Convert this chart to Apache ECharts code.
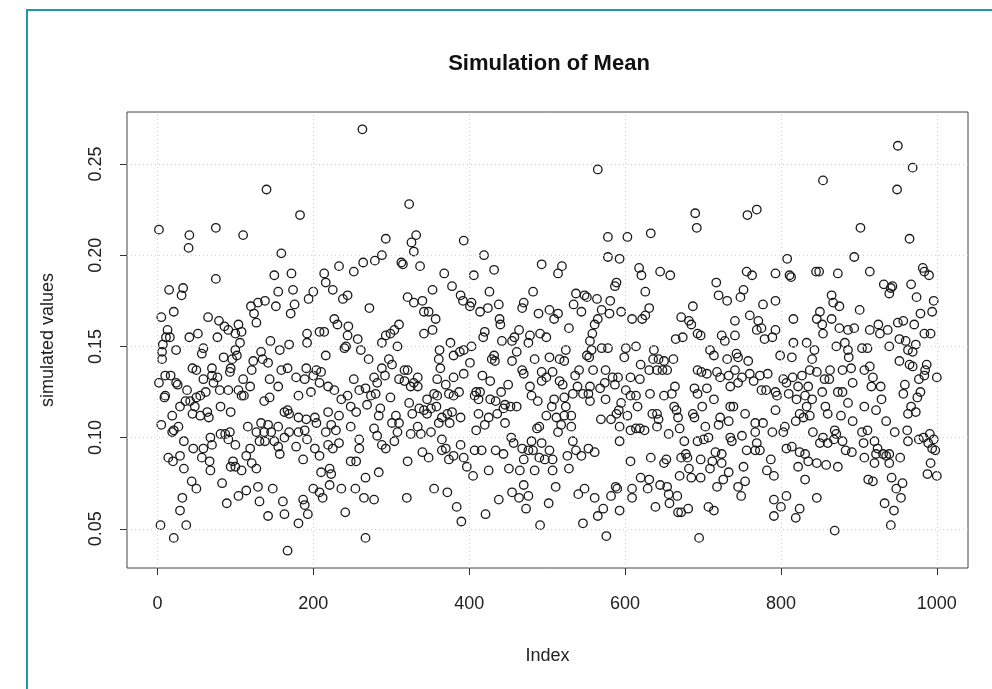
<!DOCTYPE html>
<html><head><meta charset="utf-8">
<script src="https://cdn.jsdelivr.net/npm/echarts@6/dist/echarts.min.js"></script>
<style>html,body{margin:0;padding:0;background:#fff}#c{width:992px;height:689px}</style>
</head><body><div id="c"></div>
<script>
const xTicks=[0,200,400,600,800,1000];
const yTicks=[0.05,0.10,0.15,0.20,0.25];
// [index, simulated value], in strips from left to right
const p1=[[2,.214],[41,.211],[40,.204],[75,.215],[75,.187],[15,.181],[33,.182],[31,.178],[21,.169],[5,.166],[65,.166],[79,.164],[86,.161],[91,.159],[77,.155],[13,.159],[11,.155],[16,.155],[41,.155],[52,.157],[7,.151],[24,.148],[59,.149],[57,.146],[6,.147],[6,.143],[85,.144],[96,.143],[45,.138],[50,.137],[70,.138],[70,.134],[77,.133],[59,.132],[72,.130],[10,.134],[17,.134],[2,.130],[24,.130],[26,.129],[94,.138],[93,.136],[80,.126],[91,.126],[38,.126],[10,.123],[9,.122],[55,.123],[62,.125],[50,.122],[36,.120],[42,.120],[48,.117],[29,.117],[45,.113],[55,.112],[64,.114],[66,.111],[81,.117],[94,.114],[19,.112],[5,.107],[21,.104],[19,.103],[27,.106],[68,.100],[81,.102],[87,.102],[91,.099],[34,.098],[46,.094],[59,.094],[70,.096],[14,.089],[20,.087],[29,.090],[34,.083],[57,.089],[67,.087],[68,.082],[94,.084],[44,.076],[50,.072],[83,.075],[32,.067],[29,.060],[89,.064],[4,.052],[37,.052],[21,.045]];
const p2=[[140,.236],[183,.222],[110,.211],[159,.201],[150,.189],[172,.190],[155,.180],[174,.181],[194,.176],[120,.172],[129,.174],[138,.175],[124,.168],[127,.163],[152,.172],[176,.173],[171,.168],[104,.162],[108,.158],[100,.157],[106,.152],[192,.157],[192,.152],[145,.153],[157,.148],[169,.151],[133,.147],[100,.148],[102,.145],[135,.143],[123,.142],[142,.141],[121,.137],[159,.137],[167,.138],[110,.132],[119,.128],[144,.132],[155,.128],[178,.133],[189,.132],[191,.138],[104,.126],[108,.123],[111,.123],[181,.123],[137,.120],[144,.122],[163,.114],[167,.115],[169,.113],[181,.111],[191,.110],[133,.108],[142,.107],[155,.106],[116,.106],[127,.103],[137,.103],[146,.103],[169,.103],[181,.103],[189,.104],[93,.103],[100,.096],[131,.098],[138,.098],[150,.098],[163,.100],[155,.095],[178,.095],[192,.099],[119,.094],[114,.090],[157,.091],[187,.088],[97,.087],[100,.084],[108,.082],[121,.086],[127,.083],[129,.073],[148,.072],[104,.068],[114,.071],[131,.065],[161,.065],[163,.058],[187,.066],[189,.063],[142,.057],[181,.053],[167,.038]];
const p3=[[263,.269],[293,.209],[288,.200],[279,.197],[264,.196],[233,.194],[252,.191],[214,.190],[216,.185],[225,.181],[200,.180],[244,.178],[238,.176],[272,.171],[227,.165],[231,.162],[245,.161],[208,.158],[214,.158],[244,.156],[257,.154],[240,.149],[242,.150],[261,.148],[271,.143],[293,.156],[288,.152],[216,.145],[204,.137],[210,.136],[200,.134],[208,.130],[197,.125],[219,.128],[227,.126],[252,.132],[259,.126],[267,.127],[278,.133],[282,.130],[288,.138],[292,.134],[274,.123],[280,.124],[236,.121],[244,.123],[248,.117],[255,.114],[269,.118],[286,.116],[284,.112],[219,.114],[233,.112],[204,.108],[202,.111],[223,.107],[229,.104],[248,.106],[216,.103],[278,.105],[282,.101],[259,.099],[202,.094],[208,.090],[219,.096],[225,.094],[233,.097],[259,.094],[293,.094],[288,.096],[248,.087],[255,.087],[210,.081],[221,.083],[223,.080],[284,.081],[267,.078],[200,.072],[208,.070],[212,.067],[221,.074],[236,.072],[254,.072],[265,.067],[278,.066],[193,.058],[241,.059],[267,.045]];
const p4=[[323,.228],[332,.211],[326,.207],[329,.202],[393,.208],[313,.196],[315,.195],[337,.194],[368,.190],[378,.183],[389,.178],[392,.175],[353,.181],[321,.177],[329,.174],[340,.175],[342,.169],[348,.169],[357,.165],[310,.162],[304,.159],[299,.157],[353,.159],[342,.157],[376,.152],[308,.150],[362,.148],[380,.145],[388,.147],[393,.148],[297,.143],[301,.140],[317,.137],[321,.137],[334,.133],[361,.143],[363,.138],[359,.132],[310,.132],[317,.131],[329,.130],[325,.128],[334,.128],[380,.133],[393,.135],[370,.129],[355,.124],[359,.123],[374,.124],[380,.123],[387,.125],[299,.122],[323,.119],[346,.121],[336,.116],[342,.115],[346,.113],[351,.116],[358,.117],[365,.111],[372,.113],[378,.114],[389,.111],[327,.113],[306,.112],[301,.108],[310,.108],[308,.103],[334,.106],[338,.102],[325,.102],[351,.103],[361,.108],[375,.108],[304,.098],[365,.099],[370,.094],[365,.093],[389,.096],[380,.090],[374,.088],[393,.089],[340,.092],[348,.089],[321,.087],[355,.072],[372,.070],[320,.067],[384,.062],[390,.054]];
const p5=[[419,.200],[493,.195],[432,.192],[406,.189],[426,.180],[482,.180],[403,.174],[401,.172],[414,.169],[424,.171],[438,.173],[470,.174],[468,.171],[489,.168],[439,.165],[440,.162],[464,.159],[478,.156],[491,.157],[420,.158],[418,.155],[458,.155],[455,.153],[442,.153],[476,.152],[403,.150],[461,.147],[432,.145],[429,.143],[433,.142],[455,.142],[484,.143],[401,.141],[468,.137],[470,.135],[493,.136],[417,.134],[427,.131],[450,.129],[478,.128],[493,.131],[480,.123],[488,.120],[441,.125],[409,.125],[414,.125],[407,.123],[412,.121],[427,.121],[434,.120],[446,.118],[453,.117],[461,.117],[444,.116],[412,.113],[436,.113],[446,.108],[425,.111],[420,.107],[409,.104],[487,.105],[490,.106],[454,.100],[407,.093],[416,.093],[434,.093],[444,.091],[457,.097],[468,.094],[476,.093],[482,.093],[480,.098],[493,.097],[397,.084],[405,.079],[425,.082],[451,.083],[465,.082],[470,.088],[484,.082],[470,.074],[455,.070],[464,.067],[476,.068],[438,.066],[473,.061],[421,.058],[491,.052]];
const p6=[[565,.247],[578,.210],[578,.199],[593,.198],[519,.194],[514,.190],[589,.185],[587,.183],[537,.179],[548,.178],[551,.177],[564,.176],[581,.175],[534,.173],[544,.169],[570,.170],[580,.168],[503,.170],[514,.168],[509,.165],[565,.165],[561,.162],[528,.160],[499,.155],[558,.157],[555,.153],[595,.169],[524,.148],[557,.148],[570,.149],[578,.149],[551,.145],[503,.144],[516,.143],[522,.142],[554,.144],[541,.137],[559,.137],[575,.137],[591,.133],[584,.133],[499,.133],[507,.136],[536,.134],[516,.131],[520,.129],[574,.130],[587,.129],[539,.128],[555,.128],[568,.127],[533,.124],[546,.124],[553,.124],[575,.121],[509,.121],[506,.117],[522,.122],[555,.120],[524,.117],[595,.119],[499,.112],[512,.111],[522,.112],[531,.112],[569,.110],[582,.110],[589,.113],[592,.115],[518,.107],[531,.106],[514,.103],[593,.106],[593,.098],[503,.093],[533,.098],[537,.093],[553,.094],[561,.092],[490,.089],[526,.090],[544,.090],[497,.088],[507,.088],[507,.082],[528,.083],[511,.073],[548,.072],[540,.069],[561,.067],[588,.073],[590,.072],[582,.068],[502,.064],[572,.061],[565,.057],[593,.060],[546,.053],[576,.046]];
const p7=[[690,.223],[692,.215],[633,.212],[603,.210],[618,.193],[621,.189],[645,.191],[658,.189],[626,.180],[687,.172],[609,.165],[622,.165],[631,.171],[626,.167],[672,.166],[682,.164],[685,.162],[693,.157],[665,.154],[674,.155],[601,.149],[599,.144],[614,.150],[637,.148],[620,.140],[631,.137],[636,.143],[643,.143],[641,.137],[650,.142],[648,.137],[654,.137],[662,.143],[693,.137],[607,.133],[619,.132],[664,.128],[689,.127],[693,.124],[601,.126],[607,.123],[614,.123],[632,.124],[650,.123],[660,.124],[616,.117],[663,.117],[666,.115],[635,.113],[641,.113],[687,.113],[689,.111],[603,.112],[643,.110],[668,.111],[607,.104],[614,.105],[619,.105],[625,.104],[641,.106],[670,.105],[656,.102],[676,.098],[693,.098],[607,.087],[633,.089],[650,.086],[653,.088],[672,.089],[678,.091],[680,.089],[682,.083],[670,.079],[685,.078],[620,.078],[631,.077],[629,.072],[645,.074],[654,.073],[609,.072],[609,.067],[656,.069],[667,.068],[657,.064],[639,.062],[668,.059],[672,.059],[681,.061],[695,.045]];
const p8=[[757,.222],[769,.225],[756,.191],[763,.189],[717,.185],[720,.178],[731,.175],[752,.181],[748,.177],[777,.173],[793,.175],[793,.190],[741,.164],[760,.167],[771,.164],[775,.160],[769,.159],[779,.154],[789,.155],[793,.159],[697,.156],[724,.156],[728,.153],[741,.156],[709,.148],[714,.145],[743,.146],[745,.144],[731,.143],[758,.142],[698,.136],[705,.135],[718,.136],[722,.133],[733,.134],[741,.137],[750,.133],[760,.135],[765,.131],[773,.134],[783,.135],[745,.130],[735,.128],[775,.126],[781,.126],[793,.125],[705,.127],[714,.121],[699,.117],[735,.117],[739,.117],[754,.113],[722,.111],[733,.109],[793,.115],[767,.108],[777,.108],[703,.106],[720,.107],[789,.103],[767,.103],[750,.101],[701,.099],[707,.100],[735,.100],[737,.098],[769,.097],[756,.093],[767,.093],[773,.093],[716,.092],[724,.091],[787,.088],[697,.088],[709,.083],[712,.087],[724,.086],[733,.081],[752,.084],[782,.082],[791,.079],[697,.078],[726,.077],[718,.073],[754,.076],[745,.073],[749,.068],[791,.066],[791,.057],[707,.062],[714,.060]];
const p9=[[854,.241],[894,.199],[808,.198],[811,.189],[813,.188],[845,.191],[849,.191],[873,.190],[865,.178],[867,.174],[875,.172],[816,.165],[850,.169],[846,.165],[853,.162],[865,.165],[854,.157],[875,.160],[886,.159],[894,.160],[816,.152],[833,.152],[843,.148],[871,.150],[882,.152],[886,.148],[887,.144],[799,.145],[814,.144],[840,.143],[863,.137],[879,.137],[890,.138],[892,.130],[837,.137],[846,.136],[815,.133],[827,.134],[803,.132],[807,.130],[856,.132],[862,.132],[822,.128],[835,.128],[853,.125],[873,.125],[879,.125],[886,.119],[795,.123],[810,.124],[820,.121],[831,.123],[833,.117],[840,.121],[824,.113],[829,.111],[819,.109],[837,.112],[857,.117],[860,.113],[877,.112],[892,.109],[805,.106],[803,.103],[841,.103],[869,.104],[871,.102],[854,.100],[860,.097],[850,.097],[868,.099],[879,.098],[883,.093],[891,.092],[807,.094],[814,.095],[824,.092],[831,.091],[835,.087],[846,.086],[858,.085],[873,.084],[822,.084],[831,.077],[807,.068],[846,.067],[800,.062],[824,.061],[819,.056],[869,.049]];
const p10=[[950,.260],[969,.248],[949,.236],[902,.215],[965,.209],[914,.191],[982,.193],[984,.191],[990,.189],[932,.184],[943,.183],[941,.182],[939,.179],[967,.184],[974,.177],[996,.175],[901,.170],[994,.169],[979,.168],[950,.163],[957,.164],[971,.162],[925,.162],[914,.159],[927,.157],[937,.159],[984,.157],[992,.157],[952,.154],[960,.153],[963,.148],[973,.151],[969,.147],[939,.150],[904,.149],[911,.149],[952,.142],[965,.140],[969,.139],[987,.140],[985,.137],[914,.139],[907,.137],[918,.133],[977,.132],[984,.134],[1000,.133],[916,.128],[928,.128],[959,.129],[979,.125],[975,.122],[957,.124],[929,.121],[907,.117],[922,.115],[967,.117],[963,.113],[973,.114],[935,.109],[904,.103],[911,.104],[946,.103],[962,.104],[906,.097],[920,.098],[963,.098],[977,.099],[983,.100],[991,.102],[996,.099],[989,.097],[994,.094],[998,.093],[924,.094],[922,.091],[931,.091],[935,.090],[939,.091],[939,.086],[907,.089],[920,.086],[953,.089],[992,.086],[988,.080],[1000,.079],[912,.077],[918,.076],[942,.078],[956,.075],[948,.072],[954,.067],[933,.064],[945,.060],[941,.052]];

const points=[].concat(p1,p2,p3,p4,p5,p6,p7,p8,p9,p10);
const FONT='"Liberation Sans", Arial, sans-serif';
const chart=echarts.init(document.getElementById('c'),null,{renderer:'canvas'});
const dotted={color:'#cfcfcf',type:[1,3],width:1};
chart.setOption({
  animation:false,
  backgroundColor:'#ffffff',
  title:{text:'Simulation of Mean',left:544,top:48,textAlign:'center',
    textStyle:{fontFamily:FONT,fontWeight:'bold',fontSize:22,color:'#111'}},
  graphic:[{type:'rect',shape:{x:27,y:10,width:1000,height:700},
    style:{fill:'none',stroke:'#1d9aa5',lineWidth:2},silent:true}],
  grid:{left:127,right:24,top:112,bottom:121,show:true,borderColor:'#444',borderWidth:1,backgroundColor:'transparent'},
  xAxis:{type:'value',min:-39,max:1040,name:'Index',nameLocation:'middle',nameGap:79,
    nameTextStyle:{fontFamily:FONT,fontSize:18,color:'#222'},
    axisLine:{show:false,onZero:false},
    axisTick:{show:true,customValues:xTicks,length:7,lineStyle:{color:'#333'}},
    axisLabel:{customValues:xTicks,margin:27,fontFamily:FONT,fontSize:18,color:'#222',
      formatter:v=>String(v)},
    splitLine:{show:false}},
  yAxis:{type:'value',min:0.0285,max:0.2785,name:'simulated values',nameLocation:'middle',nameGap:70,nameRotate:90,
    nameTextStyle:{fontFamily:FONT,fontSize:18,color:'#222'},
    axisLine:{show:false,onZero:false},
    axisTick:{show:true,customValues:yTicks,length:7,lineStyle:{color:'#333'}},
    axisLabel:{customValues:yTicks,rotate:90,margin:22,fontFamily:FONT,fontSize:18,color:'#222',
      formatter:v=>v.toFixed(2)},
    splitLine:{show:false}},
  series:[{type:'scatter',data:points,symbol:'circle',symbolSize:8.5,
    itemStyle:{color:'rgba(0,0,0,0)',borderColor:'#1a1a1a',borderWidth:1.3,opacity:1},
    markLine:{silent:true,symbol:['none','none'],label:{show:false},lineStyle:dotted,
      emphasis:{disabled:true},
      data:xTicks.map(v=>({xAxis:v})).concat(yTicks.map(v=>({yAxis:v})))}}]
});
</script></body></html>
